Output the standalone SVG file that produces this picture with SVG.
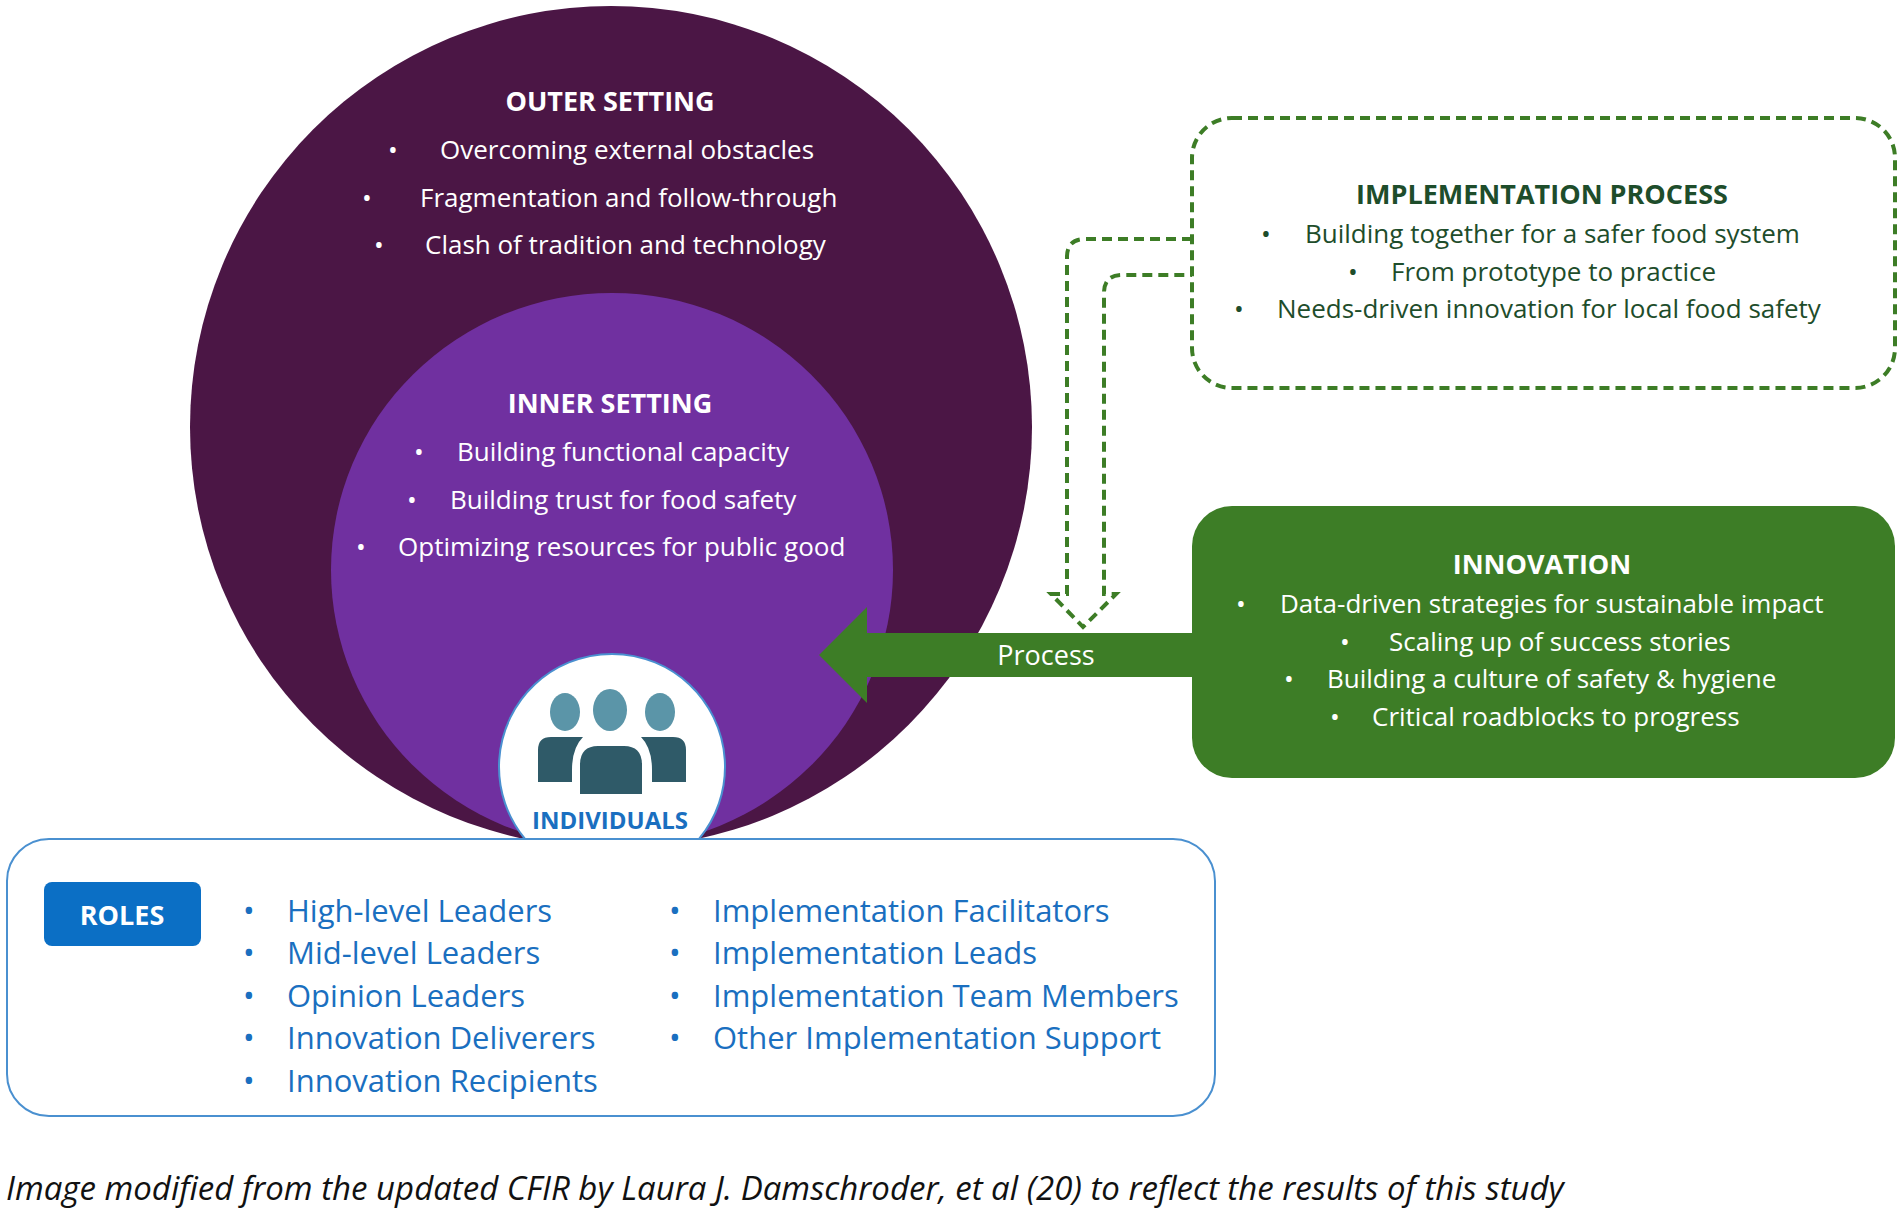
<svg xmlns="http://www.w3.org/2000/svg" width="1902" height="1217" viewBox="0 0 1902 1217">
<style>
text{font-family:"Open Sans","Liberation Sans",sans-serif}
.w{fill:#fff;font-size:26px}
.wt{fill:#fff;font-size:27px;font-weight:bold;text-anchor:middle}
.g{fill:#1e4d2b;font-size:26px}
.gt{fill:#1e4d2b;font-size:27px;font-weight:bold;text-anchor:middle}
.b{fill:#1a6fc0;font-size:31px}
</style>
<rect width="1902" height="1217" fill="#fff"/>
<g id="outer-setting">
<ellipse cx="611" cy="427" rx="421" ry="421" fill="#4b1645"/>
<text class="wt" x="610" y="111">OUTER SETTING</text>
<text class="w" x="388" y="159">•</text><text class="w" x="440" y="159">Overcoming external obstacles</text>
<text class="w" x="362" y="207">•</text><text class="w" x="420" y="207">Fragmentation and follow-through</text>
<text class="w" x="374" y="254">•</text><text class="w" x="425" y="254">Clash of tradition and technology</text>
</g>
<g id="inner-setting">
<ellipse cx="612" cy="570" rx="281" ry="277" fill="#7030a0"/>
<text class="wt" x="610" y="413">INNER SETTING</text>
<text class="w" x="414" y="461">•</text><text class="w" x="457" y="461">Building functional capacity</text>
<text class="w" x="407" y="509">•</text><text class="w" x="450" y="509">Building trust for food safety</text>
<text class="w" x="356" y="556">•</text><text class="w" x="398" y="556">Optimizing resources for public good</text>
</g>
<g id="connectors">
<path d="M1192,239 H1085 Q1067,239 1067,257 V594 H1051 L1083,627 L1116,594 H1104 V293 Q1104,275 1122,275 H1192" fill="none" stroke="#3d7d26" stroke-width="4" stroke-dasharray="10,6"/>
<path d="M1192,633 H867 V607 L819,655 L867,703 V677 H1192 Z" fill="#3d7d26"/>
<text x="1046" y="665" fill="#fff" font-size="27" text-anchor="middle" font-family="Open Sans,sans-serif">Process</text>
</g>
<g id="roles">
<rect x="7" y="839" width="1208" height="277" rx="42" fill="#fff" stroke="#4a90d0" stroke-width="2"/>
<rect x="44" y="882" width="157" height="64" rx="8" fill="#0b6fc5"/>
<text x="122" y="925" fill="#fff" font-size="27" font-weight="bold" text-anchor="middle">ROLES</text>
<g class="b">
<text class="b" x="243" y="922">•</text><text class="b" x="287" y="922">High-level Leaders</text>
<text class="b" x="243" y="964">•</text><text class="b" x="287" y="964">Mid-level Leaders</text>
<text class="b" x="243" y="1007">•</text><text class="b" x="287" y="1007">Opinion Leaders</text>
<text class="b" x="243" y="1049">•</text><text class="b" x="287" y="1049">Innovation Deliverers</text>
<text class="b" x="243" y="1092">•</text><text class="b" x="287" y="1092">Innovation Recipients</text>
<text class="b" x="669" y="922">•</text><text class="b" x="713" y="922">Implementation Facilitators</text>
<text class="b" x="669" y="964">•</text><text class="b" x="713" y="964">Implementation Leads</text>
<text class="b" x="669" y="1007">•</text><text class="b" x="713" y="1007">Implementation Team Members</text>
<text class="b" x="669" y="1049">•</text><text class="b" x="713" y="1049">Other Implementation Support</text>
</g>
</g>
<g id="individuals">
<path d="M525,839 A113,113 0 1 1 699,839 Z" fill="#fff" stroke="#4a90d0" stroke-width="2"/>
<g fill="#5b95a8"><ellipse cx="565" cy="712" rx="15" ry="19"/><ellipse cx="610" cy="710" rx="17" ry="21"/><ellipse cx="660" cy="712" rx="15" ry="19"/></g>
<g fill="#2f5a68"><path d="M538,782 V750 Q538,737 551,737 H583 Q572,748 572,770 V782 Z"/><path d="M686,782 V750 Q686,737 673,737 H641 Q652,748 652,770 V782 Z"/><path d="M580,794 V765 Q580,746 598,746 H624 Q642,746 642,765 V794 Z"/></g>
<text x="610" y="829" fill="#1a6fc0" font-size="24" font-weight="bold" text-anchor="middle">INDIVIDUALS</text>
</g>
<g id="implementation-process">
<rect x="1192" y="118" width="703" height="270" rx="40" fill="#fff" stroke="#3d7d26" stroke-width="4" stroke-dasharray="10,6"/>
<text class="gt" x="1542" y="204">IMPLEMENTATION PROCESS</text>
<text class="g" x="1261" y="243">•</text><text class="g" x="1305" y="243">Building together for a safer food system</text>
<text class="g" x="1348" y="281">•</text><text class="g" x="1391" y="281">From prototype to practice</text>
<text class="g" x="1234" y="318">•</text><text class="g" x="1277" y="318">Needs-driven innovation for local food safety</text>
</g>
<g id="innovation">
<rect x="1192" y="506" width="703" height="272" rx="40" fill="#3d7d26"/>
<text class="wt" x="1542" y="574">INNOVATION</text>
<text class="w" x="1236" y="613">•</text><text class="w" x="1280" y="613">Data-driven strategies for sustainable impact</text>
<text class="w" x="1340" y="651">•</text><text class="w" x="1389" y="651">Scaling up of success stories</text>
<text class="w" x="1284" y="688">•</text><text class="w" x="1327" y="688">Building a culture of safety &amp; hygiene</text>
<text class="w" x="1330" y="726">•</text><text class="w" x="1372" y="726">Critical roadblocks to progress</text>
</g>
<text x="6" y="1200" font-size="33" font-style="italic" fill="#111">Image modified from the updated CFIR by Laura J. Damschroder, et al (20) to reflect the results of this study</text>
</svg>
